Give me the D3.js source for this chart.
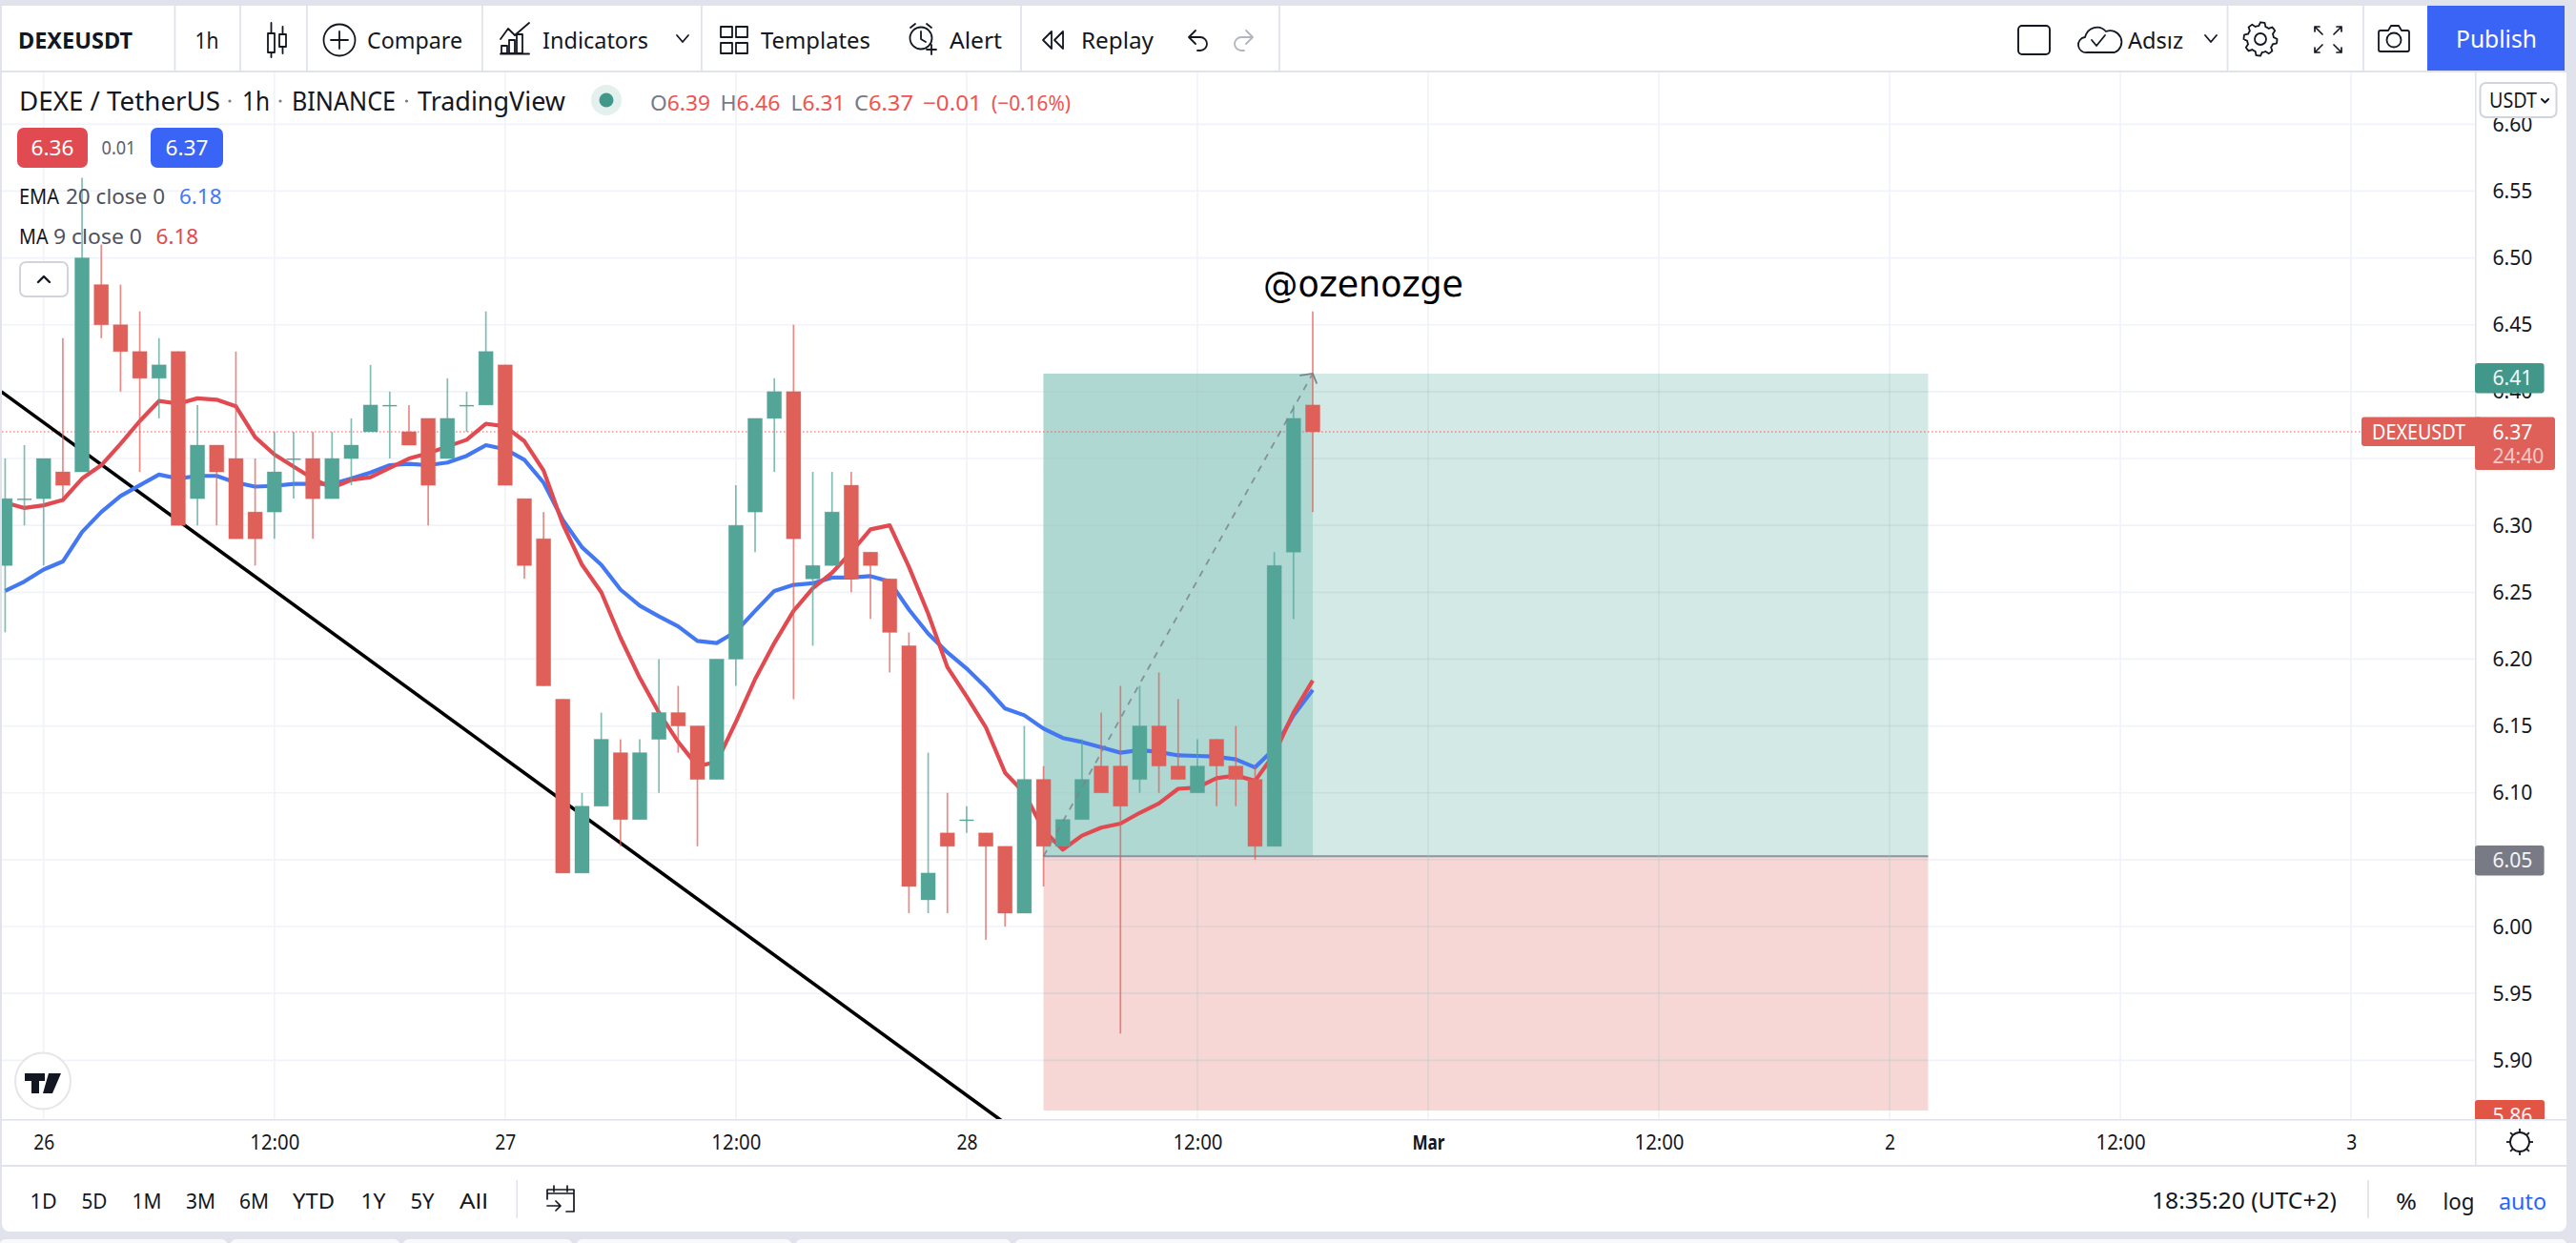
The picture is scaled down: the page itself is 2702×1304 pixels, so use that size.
<!DOCTYPE html>
<html><head><meta charset="utf-8">
<script src="https://cdn.jsdelivr.net/npm/d3@7"></script>
<style>html,body{margin:0;padding:0;background:#e0e3eb;overflow:hidden}svg{display:block}</style>
</head><body><svg id="c" width="2702" height="1304"></svg>
<script>
// ---- data (hourly bars, index 0 = 25 Feb 22:00) ----
const opens  = [6.27,6.32,6.32,6.34,6.34,6.48,6.45,6.43,6.41,6.43,6.32,6.36,6.35,6.31,6.31,6.35,6.35,6.32,6.35,6.37,6.39,6.37,6.38,6.35,6.39,6.39,6.42,6.32,6.29,6.17,6.04,6.09,6.13,6.08,6.14,6.16,6.15,6.11,6.20,6.31,6.38,6.40,6.26,6.27,6.33,6.28,6.26,6.21,6.02,6.07,6.08,6.07,6.06,6.01,6.11,6.06,6.08,6.12,6.12,6.11,6.15,6.12,6.10,6.14,6.12,6.11,6.06,6.28,6.39];
const highs  = [6.35,6.36,6.35,6.44,6.56,6.51,6.48,6.46,6.44,6.43,6.39,6.36,6.43,6.35,6.37,6.37,6.37,6.37,6.38,6.42,6.40,6.39,6.38,6.41,6.40,6.46,6.42,6.32,6.31,6.17,6.10,6.16,6.14,6.14,6.20,6.18,6.15,6.20,6.33,6.38,6.41,6.45,6.34,6.34,6.34,6.28,6.26,6.22,6.13,6.10,6.09,6.07,6.06,6.15,6.12,6.08,6.14,6.16,6.18,6.18,6.19,6.17,6.14,6.14,6.15,6.12,6.28,6.39,6.46];
const lows   = [6.22,6.30,6.27,6.32,6.34,6.44,6.40,6.34,6.38,6.30,6.30,6.30,6.29,6.27,6.29,6.32,6.29,6.32,6.33,6.37,6.35,6.36,6.30,6.35,6.37,6.39,6.33,6.26,6.18,6.04,6.04,6.09,6.06,6.08,6.10,6.13,6.06,6.11,6.18,6.28,6.34,6.17,6.21,6.27,6.25,6.23,6.19,6.01,6.01,6.01,6.07,5.99,6.00,6.01,6.03,6.06,6.08,6.10,5.92,6.10,6.10,6.11,6.10,6.09,6.09,6.05,6.06,6.23,6.31];
const closes = [6.32,6.32,6.35,6.33,6.50,6.45,6.43,6.41,6.42,6.30,6.36,6.34,6.29,6.29,6.34,6.35,6.32,6.35,6.36,6.39,6.39,6.36,6.33,6.38,6.39,6.43,6.33,6.27,6.18,6.04,6.09,6.14,6.08,6.13,6.16,6.15,6.11,6.20,6.30,6.38,6.40,6.29,6.27,6.31,6.26,6.27,6.22,6.03,6.04,6.06,6.08,6.06,6.01,6.11,6.06,6.08,6.11,6.10,6.09,6.15,6.12,6.11,6.12,6.12,6.11,6.06,6.27,6.38,6.37];
const ma9  = [6.317,6.313,6.315,6.319,6.335,6.345,6.361,6.378,6.393,6.391,6.395,6.394,6.389,6.366,6.353,6.344,6.335,6.328,6.334,6.336,6.343,6.350,6.354,6.359,6.364,6.376,6.374,6.363,6.341,6.301,6.2705,6.250,6.216,6.186,6.160,6.138,6.120,6.123,6.153,6.185,6.212,6.236,6.253,6.2645,6.280,6.297,6.300,6.269,6.234,6.194,6.172,6.149,6.115,6.100,6.072,6.0576,6.068,6.074,6.077,6.085,6.092,6.103,6.104,6.111,6.113,6.109,6.129,6.160,6.184];
const ema20= [6.251,6.258,6.267,6.273,6.295,6.310,6.322,6.330,6.338,6.335,6.337,6.337,6.332,6.329,6.3295,6.331,6.331,6.331,6.335,6.3395,6.345,6.346,6.345,6.347,6.352,6.360,6.357,6.349,6.332,6.304,6.2836,6.2705,6.252,6.240,6.232,6.2245,6.2136,6.212,6.2205,6.236,6.251,6.2555,6.2567,6.261,6.261,6.262,6.258,6.237,6.219,6.205,6.193,6.179,6.163,6.158,6.148,6.141,6.138,6.134,6.130,6.132,6.1305,6.128,6.1276,6.127,6.125,6.119,6.133,6.158,6.177];
const priceTicks = [6.60,6.55,6.50,6.45,6.40,6.35,6.30,6.25,6.20,6.15,6.10,6.05,6.00,5.95,5.90];
const priceLabels = [6.60,6.55,6.50,6.45,6.40,6.30,6.25,6.20,6.15,6.10,6.00,5.95,5.90]; // 6.35 and 6.05 are covered by the flag labels in the reference
const timeTickBars = [2,14,26,38,50,62,74,86,98,110,122];
const timeTickLabels = ["26","12:00","27","12:00","28","12:00","Mar","12:00","2","12:00","3"];
const trendBars = [-0.2,51.8], trendPrices = [6.40,5.855];
const posBars = [54,68,100], posTarget = 6.4135, posEntry = 6.0526, posStop = 5.8625;
const lastPrice = 6.37;
const rangeButtons = ["1D","5D","1M","3M","6M","YTD","1Y","5Y","All"];

// ---- layout ----
const FONT = '"Noto Sans","Open Sans",sans-serif';
const INK="#131722", GREY="#787b86", GRID="#f0f3fa", EDGE="#e0e3eb", UP="#53a597", DOWN="#df5f59", RED="#ef5350", BLUE="#2962ff";
const L=2,R=2596,TOP=76,BOT=1174;
const x = d3.scaleLinear().domain([0,100]).range([5.4,2022.4]);
const y = d3.scaleLinear().domain([6.60,5.90]).range([130.3,1112.3]);
const svg = d3.select("#c");
const defs = svg.append("defs");
defs.append("clipPath").attr("id","pane").append("rect").attr("x",L).attr("y",TOP).attr("width",R-L).attr("height",BOT-TOP);
defs.append("clipPath").attr("id","axisclip").append("rect").attr("x",R).attr("y",TOP).attr("width",96).attr("height",BOT-TOP);

function rect(p,a,b,w,h,fill,o={}){const r=p.append("rect").attr("x",a).attr("y",b).attr("width",w).attr("height",h).attr("fill",fill);
  if(o.rx)r.attr("rx",o.rx); if(o.stroke)r.attr("stroke",o.stroke).attr("stroke-width",o.sw||2); return r;}
function T(p,a,b,s,o={}){const t=p.append("text").attr("x",a).attr("y",b).attr("dy",".36em").text(s)
  .attr("font-family",o.font||FONT).attr("font-size",o.size||22).attr("fill",o.fill||INK).attr("text-anchor",o.anchor||"start");
  if(o.weight)t.attr("font-weight",o.weight); if(o.w)t.attr("textLength",o.w).attr("lengthAdjust","spacingAndGlyphs"); if(o.op)t.attr("opacity",o.op); return t;}
function P(p,d,o={}){return p.append("path").attr("d",d).attr("fill",o.fill||"none").attr("stroke",o.stroke===undefined?INK:o.stroke).attr("stroke-width",o.sw||1.8).attr("stroke-linecap","round").attr("stroke-linejoin","round");}

// ---- page panels ----
rect(svg,0,0,2702,1304,EDGE);
rect(svg,2,6,2688,68,"#fff");
rect(svg,2,76,2690,1146,"#fff");
rect(svg,2,1224,2690,68,"#fff").attr("rx",8);
rect(svg,2,1224,2690,20,"#fff");
[[0,238],[242,419],[423,600],[605,830],[835,1060],[1065,2692]].forEach(s=>rect(svg,s[0],1300,s[1]-s[0],10,"#f8f9fd").attr("rx",6));
rect(svg,R,TOP,1,1146,EDGE).attr("width",1.6);
rect(svg,2,BOT,2690,1.6,EDGE);
[182.5,251,321,505,735,1070,1341,2335.6,2478].forEach(a=>rect(svg,a,6,1.8,68,EDGE));

// ---- plot ----
const pane = svg.append("g").attr("clip-path","url(#pane)");
const gridG = pane.append("g");
gridG.selectAll("line").data(priceTicks).join("line").attr("x1",L).attr("x2",R).attr("y1",d=>y(d)).attr("y2",d=>y(d)).attr("stroke",GRID).attr("stroke-width",1.7);
pane.append("g").selectAll("line").data(timeTickBars).join("line").attr("x1",d=>x(d)).attr("x2",d=>x(d)).attr("y1",TOP).attr("y2",BOT).attr("stroke",GRID).attr("stroke-width",1.7);

// position tool
const pos = pane.append("g");
rect(pos,x(posBars[0]),y(posTarget),x(posBars[2])-x(posBars[0]),y(posEntry)-y(posTarget),"#d2e9e6");
rect(pos,x(posBars[0]),y(posTarget),x(posBars[1])-x(posBars[0]),y(posEntry)-y(posTarget),"#afd8d3");
rect(pos,x(posBars[0]),y(posEntry),x(posBars[2])-x(posBars[0]),y(posStop)-y(posEntry),"#f6d7d5");
pos.append("line").attr("x1",x(posBars[0])).attr("x2",x(posBars[2])).attr("y1",y(posEntry)).attr("y2",y(posEntry)).attr("stroke","#8d929c").attr("stroke-width",2);
// faint grid through the tool
const g2 = pane.append("g").attr("opacity",.3);
g2.selectAll("line").data(priceTicks.filter(p=>p<posTarget&&p>posStop)).join("line").attr("x1",x(posBars[0])).attr("x2",x(posBars[2])).attr("y1",d=>y(d)).attr("y2",d=>y(d)).attr("stroke","#a9c9c5").attr("stroke-width",1.7);
const g3 = pane.append("g").attr("opacity",.3);
g3.selectAll("line").data(timeTickBars.filter(b=>b>posBars[0]&&b<posBars[2])).join("line").attr("x1",d=>x(d)).attr("x2",d=>x(d)).attr("y1",y(posTarget)).attr("y2",y(posStop)).attr("stroke","#a9c9c5").attr("stroke-width",1.7);

// last price line
pane.append("line").attr("x1",L).attr("x2",2477).attr("y1",y(lastPrice)).attr("y2",y(lastPrice)).attr("stroke",RED).attr("stroke-width",1.6).attr("stroke-dasharray","1.6 2.4").attr("opacity",.6);

// trend line
pane.append("line").attr("x1",x(trendBars[0])).attr("y1",y(trendPrices[0])).attr("x2",x(trendBars[1])).attr("y2",y(trendPrices[1])).attr("stroke","#000").attr("stroke-width",3.6);

// indicator lines
const line = d3.line().x((d,i)=>x(i)).y(d=>y(d));
pane.append("path").attr("d",line(ema20)).attr("fill","none").attr("stroke","#4478f2").attr("stroke-width",4.2).attr("stroke-linejoin","round");
pane.append("path").attr("d",line(ma9)).attr("fill","none").attr("stroke","#e04a50").attr("stroke-width",4.2).attr("stroke-linejoin","round");

// candles
const bars = closes.map((c,i)=>({i,o:opens[i],h:highs[i],l:lows[i],c}));
const col = d=>d.c>=d.o?UP:DOWN;
const wg = pane.append("g");
wg.selectAll("line").data(bars).join("line").attr("x1",d=>x(d.i)).attr("x2",d=>x(d.i)).attr("y1",d=>y(d.h)).attr("y2",d=>y(d.l)).attr("stroke",col).attr("stroke-width",1.7).attr("opacity",.72);
const bg = pane.append("g");
bg.selectAll("rect").data(bars).join("rect")
  .attr("x",d=>x(d.i)-7.5).attr("width",15)
  .attr("y",d=>y(Math.max(d.o,d.c))).attr("height",d=>Math.max(y(Math.min(d.o,d.c))-y(Math.max(d.o,d.c)),1.4))
  .attr("fill",col).attr("stroke",d=>d.c===d.o?"none":col(d)).attr("stroke-opacity",.45).attr("stroke-width",.8);

// dashed diagonal of the position tool
const ax=x(posBars[0]),ay=y(posEntry),bx=x(posBars[1]),by=y(posTarget);
pane.append("line").attr("x1",ax).attr("y1",ay).attr("x2",bx).attr("y2",by).attr("stroke","#7d858c").attr("stroke-width",1.8).attr("stroke-dasharray","7 7").attr("opacity",.85);
P(pane,`M${bx-13},${by+2}L${bx},${by}L${bx+4},${by+10}`,{stroke:"#7d858c",sw:1.8});

// watermark text
T(svg,1325,297,"@ozenozge",{font:'"DejaVu Sans",sans-serif',size:37.5,fill:"#000",w:210});

// ---- price axis ----
const axY = d3.axisRight(y).tickValues(priceLabels).tickFormat(d3.format(".2f")).tickSize(0).tickPadding(0);
const gY = svg.append("g").attr("transform",`translate(2614.4,0)`).call(axY);
gY.select(".domain").remove();
gY.selectAll("text").attr("font-family",FONT).attr("font-size",22).attr("fill",INK).attr("textLength",42).attr("lengthAdjust","spacingAndGlyphs");

// USDT button
rect(svg,2601.5,87,80,36,"#fff",{rx:6,stroke:"#d1d4dc",sw:2});
T(svg,2611,105,"USDT",{size:21,w:50});
P(svg,"M2666,104l3.5,3.5l3.5,-3.5",{sw:2});

// price labels
const lab = svg.append("g").attr("clip-path","url(#axisclip)");
rect(lab,R,381,72.6,31.5,"#41988a",{rx:3});
T(lab,2614.4,y(6.41)-.5,"6.41",{fill:"#fff",w:42,op:.92});
rect(lab,R,887,72.6,31.5,GREY,{rx:3});
T(lab,2614.4,y(6.05),"6.05",{fill:"#fff",w:42,op:.92});
rect(lab,R,1154,73,34,"#e25545",{rx:3});
T(lab,2614.4,1170,"5.86",{fill:"#fff",w:42,op:.92});
rect(svg,2477,437.6,126,30.4,DOWN,{rx:3});
rect(svg,R,437.6,84,55.4,DOWN,{rx:3});
T(svg,2488,453,"DEXEUSDT",{fill:"#fff",size:21,w:98});
T(svg,2614.4,453,"6.37",{fill:"#fff",w:42});
T(svg,2614.4,478,"24:40",{fill:"#fff",w:54,op:.65});

// ---- time axis ----
const axX = d3.axisBottom(x).tickValues(timeTickBars).tickFormat((d,i)=>timeTickLabels[i]).tickSize(0).tickPadding(0);
const gX = svg.append("g").attr("transform",`translate(0,1191)`).call(axX);
gX.select(".domain").remove();
gX.selectAll("text").attr("font-family",FONT).attr("font-size",21).attr("fill",INK).attr("dy",".72em")
  .attr("font-weight",(d,i)=>timeTickLabels[i]==="Mar"?700:null).attr("textLength",(d,i)=>timeTickLabels[i]==="12:00"?52:timeTickLabels[i]==="Mar"?34:timeTickLabels[i].length*11).attr("lengthAdjust","spacingAndGlyphs");
// axis settings glyph
{const g=svg.append("g").attr("transform","translate(2643,1198)");
 g.append("circle").attr("r",10).attr("fill","none").attr("stroke",INK).attr("stroke-width",1.8);
 d3.range(8).forEach(k=>{const a=k*Math.PI/4,c=Math.cos(a),s=Math.sin(a);
   g.append("line").attr("x1",10*c).attr("y1",10*s).attr("x2",14*c).attr("y2",14*s).attr("stroke",INK).attr("stroke-width",1.8);});}

// ---- top toolbar ----
T(svg,19,42,"DEXEUSDT",{weight:700,size:24,w:120});
T(svg,204.5,42,"1h",{size:24,w:25});
P(svg,"M281,35h7v20h-7zM284.500,24v11M284.500,55v5M293,36h7v13h-7zM296.500,28v8M296.500,49v7",{sw:1.8});
svg.append("circle").attr("cx",356).attr("cy",42).attr("r",16.5).attr("fill","none").attr("stroke",INK).attr("stroke-width",1.8);
P(svg,"M356,33v18M347,42h18");
T(svg,385,42,"Compare",{size:24,w:100});
P(svg,"M525,41l8,-11l7,7l15,-13M526,56v-8h6v8zM534,56v-14h6v14zM542,56v-20h6v20zM525,56.500h30",{sw:1.8});
T(svg,569,42,"Indicators",{size:24,w:111});
P(svg,"M710,37l6,7l6,-7");
P(svg,"M756,28h12v11h-12zM772,28h12v11h-12zM756,45h12v11h-12zM772,45h12v11h-12z");
T(svg,798,42,"Templates",{size:24,w:115});
svg.append("circle").attr("cx",966).attr("cy",40).attr("r",11.500).attr("fill","none").attr("stroke",INK).attr("stroke-width",1.8);
P(svg,"M966,33v8l5,3M955,29l5,-4M977,29l-5,-4M972,52h10M977,47v10");
T(svg,996,42,"Alert",{size:24,w:55});
P(svg,"M1103,33l-9,9l9,9zM1115,33l-9,9l9,9z");
T(svg,1134,42,"Replay",{size:24,w:76});
P(svg,"M1254,32l-7,7l7,7M1247,39h12a7,7,0,0,1,0,14h-3",{sw:1.8});
P(svg,"M1307,32l7,7l-7,7M1314,39h-12a7,7,0,0,0,0,14h3",{stroke:"#b2b5be",sw:1.8});
rect(svg,2117,27,33,30,"none",{rx:4,stroke:INK,sw:1.9});
P(svg,"M2192,55h-3a8,8,0,0,1,-2,-16a13,14,0,0,1,22,-6a11,11,0,0,1,9,22h-26M2194,42l5,6l9,-11",{sw:1.8});
T(svg,2232,42,"Adsız",{size:24,w:58});
P(svg,"M2313,37l6,7l6,-7");
{const pts=d3.range(48).map(k=>{const a=k/48*2*Math.PI,t=(k%6);return [a,(t<3)?17.5:14];});
 svg.append("path").attr("transform","translate(2371,41)").attr("d",d3.lineRadial().curve(d3.curveLinearClosed)(pts)).attr("fill","none").attr("stroke",INK).attr("stroke-width",1.8);
 svg.append("circle").attr("cx",2371).attr("cy",41).attr("r",6).attr("fill","none").attr("stroke",INK).attr("stroke-width",1.8);}
P(svg,"M2428,28h5M2428,28v5M2428,28l8,8M2456,28h-5M2456,28v5M2456,28l-8,8M2428,55h5M2428,55v-5M2428,55l8,-8M2456,55h-5M2456,55v-5M2456,55l-8,-8",{sw:1.7});
P(svg,"M2497,32h8l3,-5h8l3,5h6a2,2,0,0,1,2,2v18a2,2,0,0,1,-2,2h-28a2,2,0,0,1,-2,-2v-18a2,2,0,0,1,2,-2z");
svg.append("circle").attr("cx",2511).attr("cy",42).attr("r",7.500).attr("fill","none").attr("stroke",INK).attr("stroke-width",1.8);
rect(svg,2546,6,144,68,"#3a64f5");
T(svg,2576,41,"Publish",{fill:"#fff",size:25,w:85});

// ---- legend ----
const ts={size:27};
T(svg,20,106,"DEXE / TetherUS",{...ts,w:211});
T(svg,254,106,"1h",{...ts,w:29});
T(svg,306,106,"BINANCE",{...ts,w:109});
T(svg,438,106,"TradingView",{...ts,w:155});
[241,294,426.5].forEach(a=>svg.append("circle").attr("cx",a).attr("cy",106).attr("r",1.6).attr("fill",GREY));
svg.append("circle").attr("cx",636).attr("cy",105).attr("r",16).attr("fill","#e3f0ed");
svg.append("circle").attr("cx",636).attr("cy",105).attr("r",7.500).attr("fill","#41988a");
[["O","6.39",682,63],["H","6.46",755.5,63],["L","6.31",829.5,57],["C","6.37",896,62]].forEach(o=>{
  const t=T(svg,o[2],108,"",{size:22,w:o[3]});
  t.append("tspan").attr("fill",GREY).text(o[0]); t.append("tspan").attr("fill",RED).text(o[1]);});
T(svg,968,108,"−0.01",{size:22,fill:RED,w:62});
T(svg,1040,108,"(−0.16%)",{size:22,fill:RED,w:83});
rect(svg,18,134,74,42,"#e04a50",{rx:7});
T(svg,55,155,"6.36",{fill:"#fff",anchor:"middle",size:22,w:45});
T(svg,106.5,155,"0.01",{fill:"#5d606b",size:20,w:36});
rect(svg,158,134,76,42,"#3a64f5",{rx:7});
T(svg,196,155,"6.37",{fill:"#fff",anchor:"middle",size:22,w:45});
T(svg,20,206,"EMA",{size:22,w:42});
T(svg,69,206,"20 close 0",{size:22,fill:"#50535e",w:104});
T(svg,188,206,"6.18",{size:22,fill:"#4478f2",w:44.5});
T(svg,20,248,"MA",{size:22,w:30.5});
T(svg,56,248,"9 close 0",{size:22,fill:"#50535e",w:93});
T(svg,163.6,248,"6.18",{size:22,fill:"#e04a50",w:44.5});
rect(svg,21,275,50,36,"rgba(255,255,255,.9)",{rx:6,stroke:"#d1d4dc",sw:2});
P(svg,"M40,296l6,-6l6,6",{sw:2.4});

// TradingView badge
svg.append("ellipse").attr("cx",45).attr("cy",1134).attr("rx",29).attr("ry",29.500).attr("fill","#fff").attr("stroke","#e6e6e8").attr("stroke-width",2);
svg.append("path").attr("d","M26,1126h21v8h-6v13h-8v-13h-7zM51,1126h13l-9,21h-10z").attr("fill",INK);

// ---- bottom toolbar ----
const rangeX=[45.6,99,154,210.5,266.6,329,391.4,443,497], rangeW=[28,27,31,31,31,44,26,25,30];
rangeButtons.forEach((s,i)=>T(svg,rangeX[i],1260,s,{anchor:"middle",size:22,w:rangeW[i]}));
rect(svg,541.5,1238,1.5,40,EDGE);
P(svg,"M574,1258v-10h28v23h-8M574,1252h28M581,1244v6M595,1244v6M574,1265h14M583,1260l5,5l-5,5",{sw:1.7});
T(svg,2257,1260,"18:35:20 (UTC+2)",{size:23,w:194});
rect(svg,2483,1238,1.8,40,EDGE);
T(svg,2524,1260,"%",{anchor:"middle",size:24,w:22});
T(svg,2579,1260,"log",{anchor:"middle",size:24,w:33});
T(svg,2646,1260,"auto",{anchor:"middle",size:24,fill:BLUE,w:50});
</script></body></html>
